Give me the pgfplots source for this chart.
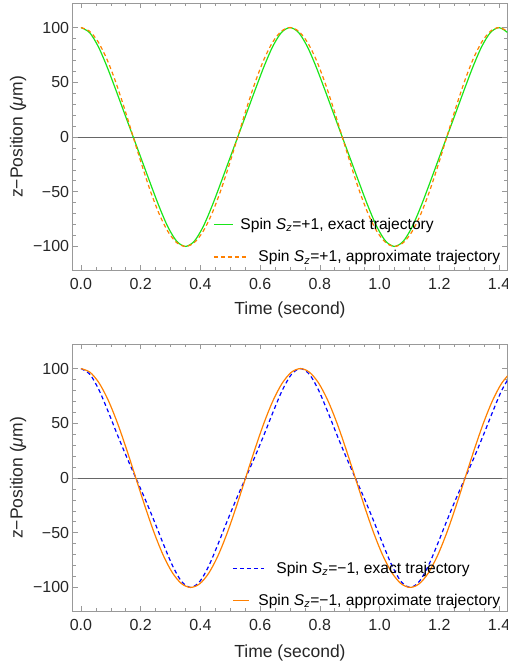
\documentclass[border=0pt]{standalone}
\usepackage{fontspec}
\setmainfont{Liberation Sans}
\usepackage{pgfplots}
\usepackage{pgfplotstable}
\pgfplotsset{compat=1.18}
\definecolor{mgreen}{rgb}{0.1,0.9,0.1}
\definecolor{morange}{rgb}{1,0.5,0}
\definecolor{mblue}{rgb}{0,0,1}
\newcommand\fs{\fontsize{16bp}{19bp}\selectfont}
\newcommand\fl{\fontsize{17.5bp}{20bp}\selectfont}
\newcommand\fg{\fontsize{15.6bp}{19bp}\selectfont}

\pgfplotstableread{
t ex ap
0 100 100
0.02917 95.33 96.59
0.05833 82.45 86.60
0.0875 64.07 70.71
0.11667 43.11 50.00
0.14583 21.51 25.88
0.175 0 0
0.20417 -21.51 -25.88
0.23333 -43.11 -50.00
0.2625 -64.07 -70.71
0.29167 -82.45 -86.60
0.32083 -95.33 -96.59
0.35 -100 -100
0.37917 -95.33 -96.59
0.40833 -82.45 -86.60
0.4375 -64.07 -70.71
0.46667 -43.11 -50.00
0.49583 -21.51 -25.88
0.525 0 0
0.55417 21.51 25.88
0.58333 43.11 50.00
0.6125 64.07 70.71
0.64167 82.45 86.60
0.67083 95.33 96.59
0.7 100 100
0.72917 95.33 96.59
0.75833 82.45 86.60
0.7875 64.07 70.71
0.81667 43.11 50.00
0.84583 21.51 25.88
0.875 0 0
0.90417 -21.51 -25.88
0.93333 -43.11 -50.00
0.9625 -64.07 -70.71
0.99167 -82.45 -86.60
1.02083 -95.33 -96.59
1.05 -100 -100
1.07917 -95.33 -96.59
1.10833 -82.45 -86.60
1.1375 -64.07 -70.71
1.16667 -43.11 -50.00
1.19583 -21.51 -25.88
1.225 0 0
1.25417 21.51 25.88
1.28333 43.11 50.00
1.3125 64.07 70.71
1.34167 82.45 86.60
1.37083 95.33 96.59
1.4 100 100
1.42917 95.33 96.59
}\topdata

\pgfplotstableread{
t ex ap
0 100 100
0.030625 94.55 96.59
0.06125 79.92 86.60
0.091875 60.15 70.71
0.1225 39.16 50.00
0.153125 19.06 25.88
0.18375 0 0
0.214375 -19.06 -25.88
0.245 -39.16 -50.00
0.275625 -60.15 -70.71
0.30625 -79.92 -86.60
0.336875 -94.55 -96.59
0.3675 -100 -100
0.398125 -94.55 -96.59
0.42875 -79.92 -86.60
0.459375 -60.15 -70.71
0.49 -39.16 -50.00
0.520625 -19.06 -25.88
0.55125 0 0
0.581875 19.06 25.88
0.6125 39.16 50.00
0.643125 60.15 70.71
0.67375 79.92 86.60
0.704375 94.55 96.59
0.735 100 100
0.765625 94.55 96.59
0.79625 79.92 86.60
0.826875 60.15 70.71
0.8575 39.16 50.00
0.888125 19.06 25.88
0.91875 0 0
0.949375 -19.06 -25.88
0.98 -39.16 -50.00
1.010625 -60.15 -70.71
1.04125 -79.92 -86.60
1.071875 -94.55 -96.59
1.1025 -100 -100
1.133125 -94.55 -96.59
1.16375 -79.92 -86.60
1.194375 -60.15 -70.71
1.225 -39.16 -50.00
1.255625 -19.06 -25.88
1.28625 0 0
1.316875 19.06 25.88
1.3475 39.16 50.00
1.378125 60.15 70.71
1.40875 79.92 86.60
1.439375 94.55 96.59
}\bottomdata

\pgfplotsset{
  img16/.style={legend image code/.code={\draw[##1] (0bp,0bp) -- (16bp,0bp);}},
  img19/.style={legend image code/.code={\draw[##1] (0bp,0bp) -- (19bp,0bp);}},
  img31/.style={legend image code/.code={\draw[##1] (0bp,0bp) -- (31bp,0bp);}},
  img34/.style={legend image code/.code={\draw[##1] (0bp,0bp) -- (34bp,0bp);}},
  mma/.style={
    scale only axis, width=434.8bp, height=267bp,
    xmin=-0.028, xmax=1.428, ymin=-122, ymax=122,
    xtick={0,0.2,0.4,0.6,0.8,1.0,1.2,1.4},
    xticklabels={0.0,0.2,0.4,0.6,0.8,1.0,1.2,1.4},
    ytick={-100,-50,0,50,100},
    yticklabels={−100,−50,0,50,100},
    extra y ticks={0}, extra y tick labels={},
    extra y tick style={grid=major, major grid style={black!60, line width=0.7bp}},
    minor x tick num=3, minor y tick num=4,
    tick align=inside,
    major tick length=5bp, minor tick length=3bp,
    axis line style={black!40, line width=0.6bp},
    every tick/.style={black!40, line width=0.6bp},
    tick label style={font=\fs, text=black!85},
    xticklabel style={yshift=-4bp},
    label style={font=\fl, text=black!85},
    xlabel={Time (second)},
    ylabel={z−Position (\textit{μ}m)},
    ylabel style={at={(axis description cs:-0.1256,0.5)}, anchor=center},
    legend style={draw=none, fill=none, font=\fg, inner sep=0pt, row sep=19.5bp,
      nodes={inner sep=0pt}},
    legend cell align=left,
  }
}

\begin{document}
\begin{tikzpicture}
\useasboundingbox (0,0) rectangle (508bp,667bp);
\begin{axis}[mma, at={(72.6bp,396.5bp)},
  xlabel style={at={(axis description cs:0.5,-0.148)}, anchor=center},
  legend style={at={(axis description cs:0.323,0.111)}, anchor=west, column sep=10bp}]
\addplot[mgreen, line width=1.2bp, smooth, img19] table[x=t,y=ex] {\topdata};
\addlegendentry{\hspace{-18bp}Spin \textit{S}\textsubscript{\textit{z}}=+1, exact trajectory}
\addplot[morange, line width=1.2bp, smooth, dash pattern=on 4bp off 3bp, img34] table[x=t,y=ap] {\topdata};
\addlegendentry{Spin \textit{S}\textsubscript{\textit{z}}=+1, approximate trajectory}
\end{axis}

\begin{axis}[mma, at={(72.6bp,55.5bp)},
  xlabel style={at={(axis description cs:0.5,-0.155)}, anchor=center},
  legend style={at={(axis description cs:0.3666,0.102)}, anchor=west, column sep=12bp}]
\addplot[mblue, line width=1.2bp, smooth, dash pattern=on 4bp off 3bp, img31] table[x=t,y=ex] {\bottomdata};
\addlegendentry{Spin \textit{S}\textsubscript{\textit{z}}=−1, exact trajectory}
\addplot[morange, line width=1.2bp, smooth, img16] table[x=t,y=ap] {\bottomdata};
\addlegendentry{\hspace{-18bp}Spin \textit{S}\textsubscript{\textit{z}}=−1, approximate trajectory}
\end{axis}
\end{tikzpicture}
\end{document}
